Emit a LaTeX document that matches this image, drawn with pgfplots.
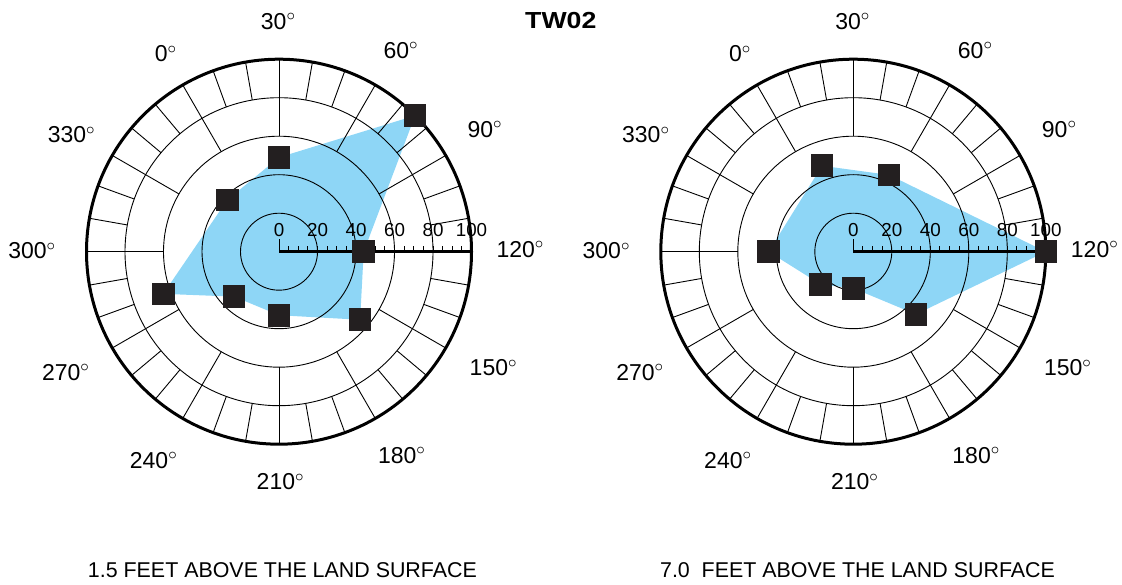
\documentclass[border=0pt]{standalone}
\usepackage{fontspec}
\setmainfont{Liberation Sans}
\usepackage{graphicx}
\usepackage{pgfplots}
\pgfplotsset{compat=1.18}
\usepgfplotslibrary{polar}
\definecolor{roseblue}{RGB}{142,214,246}
\definecolor{mk}{RGB}{35,31,32}

\newcommand{\labfont}{\fontsize{11.5}{13}\selectfont}
\newcommand{\scalefont}{\fontsize{9.4}{10}\selectfont}

\pgfplotsset{
  rose/.style={
    scale only axis, width=192.5pt, height=192.5pt,
    xmin=0, xmax=360, ymin=0, ymax=100,
    xtick=\empty, ytick={20,40,60,80}, yticklabels={},
    ymajorgrids, major grid style={black, line width=0.45pt},
    axis line style={black, line width=1.5pt},
    major tick length=0pt,
    clip=false, set layers, anchor=center,
  },
  spoke/.style={black, line width=0.45pt, mark=none, forget plot},
  squares/.style={only marks, mark=square*, mark size=5.4pt,
    mark options={draw=mk, fill=mk, line width=0pt}},
}

\newcommand{\alab}[3]{\node[font=\labfont, anchor=center, inner sep=0pt] at (axis cs:0,0) [xshift=#1pt, yshift=#2pt] {#3\rlap{$^{\circ}$}};}

\newcommand{\roseframe}{%
  \pgfplotsinvokeforeach{30,60,...,330}{\addplot[spoke] coordinates {(##1,60) (##1,100)};}
  \pgfplotsinvokeforeach{10,20,40,50,70,80,100,110,130,140,160,170,190,200,220,230,250,260,280,290,310,320,340,350}{\addplot[spoke] coordinates {(##1,80) (##1,100)};}
  \addplot[black, line width=1.3pt, mark=none, forget plot] coordinates {(0,0) (0,100)};
  \pgfplotsinvokeforeach{5,10,...,100}{\draw[black, line width=0.45pt] (axis cs:0,##1) -- ++(0pt,2.9pt);}
  \draw[black, line width=0.45pt] (axis cs:0,0) -- ++(0pt,6.5pt);
  \pgfplotsinvokeforeach{0,20,...,100}{\node[font=\scalefont, inner sep=0pt] at (axis cs:0,##1) [yshift=11pt] {##1};}
  \alab{-2.63}{115.2}{30}
  \alab{-58.88}{98.95}{0}
  \alab{58.7}{100.6}{60}
  \alab{100.7}{61.1}{90}
  \alab{118.4}{1.25}{120}
  \alab{104.95}{-58.15}{150}
  \alab{59.15}{-101.8}{180}
  \alab{-1.55}{-115.15}{210}
  \alab{-64.95}{-104.4}{240}
  \alab{-108.9}{-60.4}{270}
  \alab{-125.75}{0.45}{300}
  \alab{-106}{58.35}{330}
}

\begin{document}
\begin{tikzpicture}
% Left rose: 1.5 ft
\begin{polaraxis}[rose, at={(139.5pt,166.15pt)}]
  \addplot[on layer=axis background, fill=roseblue, draw=none, forget plot]
    coordinates {(0,44) (45,100) (90,49) (135,38) (200,64) (225,33) (270,33) (320,55) (0,44)};
  \roseframe
  \addplot[squares] coordinates {(0,44) (45,100) (90,49) (135,38) (200,64) (225,33) (270,33) (320,55)};
\end{polaraxis}

% Right rose: 7.0 ft
\begin{polaraxis}[rose, at={(426.65pt,166.15pt)}]
  \addplot[on layer=axis background, fill=roseblue, draw=none, forget plot]
    coordinates {(0,100) (65,44) (110,47.5) (180,44) (225,24) (270,19) (315,46) (0,100)};
  \roseframe
  \addplot[squares] coordinates {(0,100) (65,44) (110,47.5) (180,44) (225,24) (270,19) (315,46)};
\end{polaraxis}

\node[anchor=base, inner sep=0pt, font=\bfseries\fontsize{11.6}{13}\selectfont] at (280.4pt,277.85pt) {\scalebox{1.15}[1]{TW02}};
\node[anchor=base, inner sep=0pt, font=\fontsize{10.7}{13}\selectfont] at (141.2pt,3.35pt) {1.5 FEET ABOVE THE LAND SURFACE};
\node[anchor=base, inner sep=0pt, font=\fontsize{10.7}{13}\selectfont] at (428.75pt,3.35pt) {7.0\ \ FEET ABOVE THE LAND SURFACE};
\pgfresetboundingbox
\path[use as bounding box] (0pt,0pt) rectangle (561pt,292pt);
\end{tikzpicture}
\end{document}
